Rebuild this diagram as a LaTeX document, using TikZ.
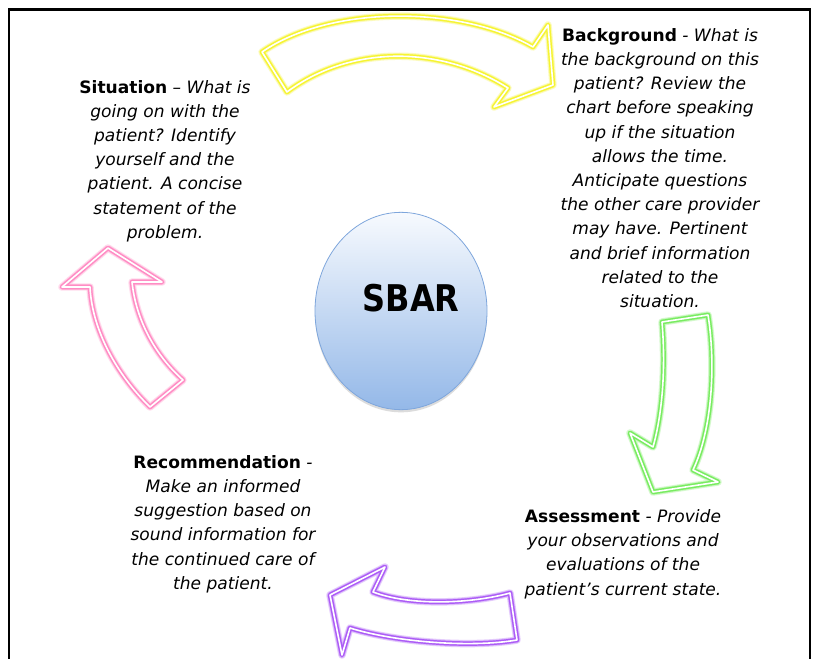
\documentclass[tikz,border=0pt]{standalone}
\usepackage{fontspec}
\setmainfont{DejaVu Sans}
\usetikzlibrary{shapes.geometric,shadows}

\definecolor{yelArrow}{RGB}{246,244,50}
\definecolor{grnArrow}{RGB}{120,236,96}
\definecolor{pnkArrow}{RGB}{255,140,196}
\definecolor{prpArrow}{RGB}{172,92,246}
\definecolor{hubTop}{RGB}{247,250,254}
\definecolor{hubBottom}{RGB}{148,184,232}
\definecolor{hubEdge}{RGB}{126,166,220}

\tikzset{
  % hollow block arrow with a soft glowing double outline
  blockarrow/.style={
    draw=#1, line width=1.1pt, double=white, double distance=1.2pt,
    line join=round, line cap=round,
    preaction={draw=#1, opacity=0.3, line width=5.6pt, line join=round},
    preaction={draw=#1, opacity=0.35, line width=4.2pt, line join=round}},
  hub/.style={ellipse, minimum width=129pt, minimum height=148pt, inner sep=0pt,
    draw=hubEdge, line width=0.6pt, top color=hubTop, bottom color=hubBottom,
    drop shadow={shadow xshift=0pt, shadow yshift=-2pt, fill=black!45, opacity=0.3}},
  hublabel/.style={inner sep=0pt, font=\fontsize{24pt}{28pt}\selectfont\bfseries},
  stepnote/.style={align=center, inner sep=0pt,
    font=\fontsize{12.8pt}{18.15pt}\selectfont\itshape},
}
\newcommand\stephead[1]{{\upshape\bfseries #1}}

\begin{document}
\begin{tikzpicture}[x=0.75pt, y=-0.75pt]
\useasboundingbox (0,0) rectangle (817,659);
\fill[white] (0,0) rectangle (817,659);

% frame
\draw[line width=2.2pt] (9,660) -- (9,9.5) -- (810,9.5) -- (810,660);

% centre
\node[hub] (hub) at (401,311) {};
\node[hublabel] (hubtext) at (411,298) {\scalebox{1}[1.15]{SBAR}};

% cycle arrows
\draw[blockarrow=yelArrow] (262,52) .. controls (330,5) and (460,5) .. (533,47)
  -- (548,25) -- (553,85) -- (494,107) -- (508,88)
  .. controls (440,45) and (350,45) .. (287,92) -- cycle;
\draw[blockarrow=grnArrow] (662,322) -- (708,315)
  .. controls (716,365) and (712,430) .. (693,470)
  -- (718,482) -- (653,492) -- (630,433) -- (653,447)
  .. controls (662,415) and (666,370) .. (662,322) -- cycle;
\draw[blockarrow=prpArrow] (330,595) -- (385,567) -- (373,592)
  .. controls (410,606) and (470,604) .. (510,593)
  -- (517,640) .. controls (470,648) and (395,642) .. (350,628)
  -- (342,655) -- cycle;
\draw[blockarrow=pnkArrow] (108,248) -- (162,282) -- (132,282)
  .. controls (136,320) and (155,355) .. (183,380)
  -- (150,407) .. controls (117,375) and (92,330) .. (90,287)
  -- (62,287) -- cycle;

% step descriptions
\node[stepnote] (sit) at (165,161) {\stephead{Situation} – What is\\
  going on with the\\ patient? Identify\\ yourself and the\\
  patient. A concise\\ statement of the\\ problem.};
\node[stepnote] (bkg) at (660,168) {\stephead{Background} - What is\\
  the background on this\\ patient? Review the\\ chart before speaking\\
  up if the situation\\ allows the time.\\ Anticipate questions\\
  the other care provider\\ may have. Pertinent\\ and brief information\\
  related to the\\ situation.};
\node[stepnote] (asm) at (623,554) {\stephead{Assessment} - Provide\\
  your observations and\\ evaluations of the\\ patient’s current state.};
\node[stepnote] (rec) at (223,524) {\stephead{Recommendation} -\\
  Make an informed\\ suggestion based on\\ sound information for\\
  the continued care of\\ the patient.};
\end{tikzpicture}
\end{document}
